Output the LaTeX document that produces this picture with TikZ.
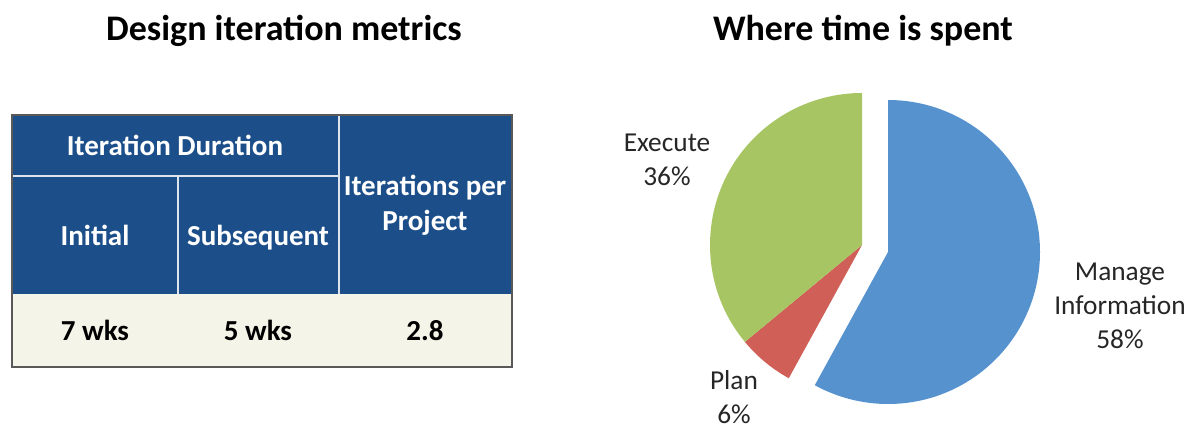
\documentclass[tikz,border=0pt]{standalone}
\usepackage{fontspec}
\setmainfont{Carlito}
\usetikzlibrary{positioning}

\definecolor{hdrblue}{HTML}{1C4F8A}
\definecolor{rowcream}{HTML}{F5F4E8}
\definecolor{pieblue}{HTML}{5692CD}
\definecolor{piered}{HTML}{D05F57}
\definecolor{piegreen}{HTML}{A7C663}

\begin{document}
\begin{tikzpicture}[x=.75pt,y=.75pt,
  title/.style={font=\bfseries\fontsize{27}{32}\selectfont,anchor=base},
  hdr/.style={text=white,font=\bfseries\fontsize{21.75}{26.25}\selectfont,align=center,anchor=base},
  cell/.style={font=\bfseries\fontsize{21.75}{26.25}\selectfont,anchor=base},
  pielbl/.style={font=\fontsize{20.5}{25.5}\selectfont,align=center,text=black!85,inner sep=1pt}]
  \useasboundingbox (0,0) rectangle (1196,-428);

  % titles
  \node[title] (ttable) at (284,-41) {Design iteration metrics};
  \node[title] (tpie) at (863,-41) {Where time is spent};

  % table
  \fill[hdrblue] (12,-115) rectangle (512,-294);
  \fill[rowcream] (12,-294) rectangle (512,-367);
  \draw[white!85!hdrblue,line width=1.1pt] (12,-176) -- (339,-176);
  \draw[white!85!hdrblue,line width=1.1pt] (178,-176) -- (178,-294);
  \draw[white!85!hdrblue,line width=1.1pt] (339,-115) -- (339,-294);
  \draw[black!65,line width=1.1pt] (12,-115) rectangle (512,-367);

  \node[hdr] (hdur) at (175,-156) {Iteration Duration};
  \node[hdr] (hinit) at (95,-245) {Initial};
  \node[hdr] (hsubs) at (258,-245) {Subsequent};
  \node[hdr,anchor=center] (hiter) at (425,-205) {Iterations per\\Project};
  \node[cell] (vinit) at (95,-340) {7 wks};
  \node[cell] (vsubs) at (258,-340) {5 wks};
  \node[cell] (viter) at (425,-340) {2.8};

  % pie
  \fill[pieblue] (888,-252) -- ++(90:152) arc[start angle=90,end angle=-118.8,radius=152] -- cycle;
  \fill[piered] (862,-245) -- ++(-118.8:152) arc[start angle=-118.8,end angle=-140.4,radius=152] -- cycle;
  \fill[piegreen] (862,-245) -- ++(-140.4:152) arc[start angle=-140.4,end angle=-270,radius=152] -- cycle;

  \node[pielbl] (lexec) at (667,-160) {Execute\\36\%};
  \node[pielbl] (lmanage) at (1120,-306) {Manage\\Information\\58\%};
  \node[pielbl] (lplan) at (734,-397) {Plan\\6\%};
\end{tikzpicture}
\end{document}
